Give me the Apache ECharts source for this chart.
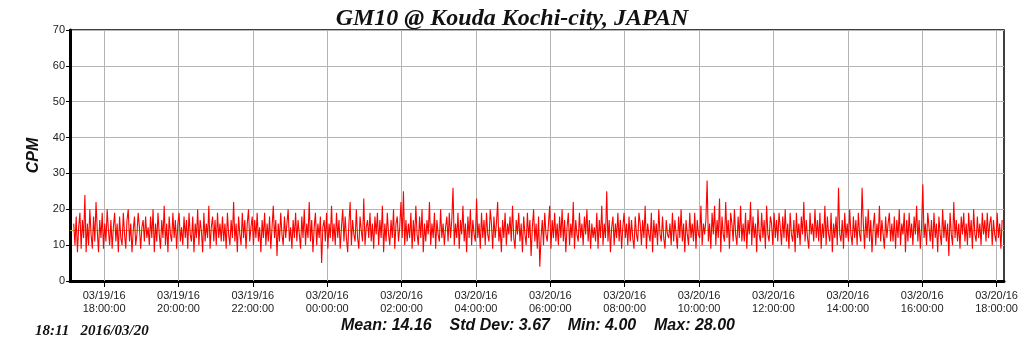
<!DOCTYPE html>
<html>
<head>
<meta charset="utf-8">
<script src="https://cdn.jsdelivr.net/npm/echarts@6/dist/echarts.min.js"></script>
<style>html,body{margin:0;padding:0;background:#fff}#c{width:1024px;height:351px}</style>
</head>
<body>
<div id="c"></div>
<script>
// Time in minutes since 03/19/16 00:00; one value every 2 minutes starting 17:11
var startMinute = 1031;
var stepMinutes = 2;
var row00 = [16,10,18,8,15,19,9,17,12,24,8,16,10,20,13,9,18,11,22,14,8,17,12,19,9,16,11,20,14,10];
var row01 = [17,9,15,19,11,16,8,18,12,10,19,13,9,17,20,11,16,8,14,18,10,13,19,15,9,15,17,11,18,12];
var row02 = [15,10,18,12,20,8,16,11,19,13,9,17,12,21,10,16,8,18,13,11,19,12,17,9,16,19,11,15,10,18];
var row03 = [12,17,9,19,13,11,18,8,16,12,20,10,17,14,8,19,11,16,12,21,9,15,18,11,17,10,19,12,16,11];
var row04 = [18,11,16,9,19,13,10,17,12,22,11,16,8,18,13,10,19,12,17,9,16,20,11,15,18,10,17,12,19,11];
var row05 = [15,8,17,12,19,10,16,11,18,9,15,21,12,17,7,16,11,19,13,10,18,12,16,20,11,15,9,17,12,19];
var row06 = [11,17,13,9,18,12,20,10,16,12,22,11,17,8,15,19,10,16,12,18,5,15,17,11,19,9,16,12,21,11];
var row07 = [16,10,19,12,17,9,15,20,11,18,12,8,16,22,10,17,13,11,20,12,9,18,14,11,23,10,15,17,12,19];
var row08 = [11,16,9,18,13,19,10,17,12,21,8,16,11,19,13,10,17,12,20,9,16,18,11,15,22,12,25,10,17,11];
var row09 = [16,12,19,9,17,11,21,13,10,18,12,20,8,16,11,17,13,22,10,16,12,19,9,17,13,11,20,12,16,10];
var row10 = [15,18,11,19,12,17,26,10,16,12,19,9,17,13,21,11,16,8,18,12,20,10,17,13,11,23,12,16,9,19];
var row11 = [12,17,10,19,13,11,20,16,9,18,12,16,22,11,15,8,17,12,19,10,16,13,18,11,21,12,9,17,13,19];
var row12 = [11,16,8,18,13,10,19,12,17,7,15,20,11,16,9,18,4,12,17,10,19,13,11,16,21,9,17,12,19,11];
var row13 = [16,10,18,12,20,11,17,8,15,19,10,16,12,22,9,17,13,11,19,12,16,10,18,13,20,11,17,9,16,12];
var row14 = [15,11,19,9,17,12,21,10,16,12,25,11,17,8,15,18,10,16,12,19,11,17,9,15,19,12,16,10,18,11];
var row15 = [17,12,9,18,13,11,19,16,10,17,12,21,9,16,13,11,19,8,17,12,16,10,20,13,11,18,12,9,17,13];
var row16 = [12,16,10,19,11,17,13,9,18,12,20,11,16,8,17,13,10,19,12,16,11,19,9,17,13,12,21,10,16,13];
var row17 = [17,28,11,16,9,19,13,21,10,17,12,23,8,18,13,11,22,12,17,9,19,16,11,20,13,10,18,12,21,11];
var row18 = [16,11,19,9,17,13,22,10,18,12,16,8,20,13,11,19,12,17,9,21,13,11,18,16,10,19,12,17,11,19];
var row19 = [15,10,18,12,20,11,16,9,19,13,11,17,8,19,12,16,10,18,13,22,11,17,12,9,19,13,16,11,20,12];
var row20 = [17,11,19,9,16,12,21,10,18,13,11,19,8,16,12,18,10,26,13,11,17,9,19,12,16,11,20,13,10,18];
var row21 = [12,17,10,19,13,11,26,16,9,18,12,20,11,17,8,15,19,10,16,12,21,11,17,13,9,18,12,16,19,11];
var row22 = [16,11,18,9,17,12,20,10,16,13,19,8,17,11,19,12,16,10,18,13,21,11,17,9,15,27,12,16,10,19];
var row23 = [15,11,17,9,19,12,16,8,18,13,10,20,12,17,11,16,7,19,13,10,22,12,17,11,16,9,18,13,19,11];
var row24 = [16,10,19,12,17,9,20,13,11,18,12,16,10,19,13,17,11,19,12,16,18,10,17,13,11,19,12,16,9,17];

var tickMinutes = [1080,1200,1320,1440,1560,1680,1800,1920,2040,2160,2280,2400,2520];
var tickLabels = ['03/19/16\n18:00:00','03/19/16\n20:00:00','03/19/16\n22:00:00','03/20/16\n00:00:00','03/20/16\n02:00:00','03/20/16\n04:00:00','03/20/16\n06:00:00','03/20/16\n08:00:00','03/20/16\n10:00:00','03/20/16\n12:00:00','03/20/16\n14:00:00','03/20/16\n16:00:00','03/20/16\n18:00:00'];
var meanValue = 14.16;
var titleText = 'GM10 @ Kouda Kochi-city, JAPAN';
var statsText = 'Mean: 14.16    Std Dev: 3.67    Min: 4.00    Max: 28.00';
var stampText = '18:11   2016/03/20';

var rows = [row00,row01,row02,row03,row04,row05,row06,row07,row08,row09,row10,row11,row12,row13,row14,row15,row16,row17,row18,row19,row20,row21,row22,row23,row24];
var values = [].concat.apply([], rows);
var data = values.map(function (v, i) { return [startMinute + i * stepMinutes, v]; });

var chart = echarts.init(document.getElementById('c'), null, {renderer: 'canvas'});
var vLines = tickMinutes.map(function (m) { return {xAxis: m}; });
chart.setOption({
  animation: false,
  backgroundColor: '#ffffff',
  title: {
    text: titleText, left: 'center', top: 2,
    textStyle: {fontFamily: 'Liberation Serif', fontStyle: 'italic', fontWeight: 'bold', fontSize: 24, color: '#111'}
  },
  grid: {left: 70, right: 20, top: 30, bottom: 70, show: true, borderColor: '#000', borderWidth: 1.5, backgroundColor: 'transparent'},
  xAxis: {
    type: 'value', min: 1025, max: 2532,
    axisLine: {show: true, onZero: false, lineStyle: {color: '#000', width: 3}},
    axisTick: {show: true, customValues: tickMinutes, length: 6, lineStyle: {color: '#000', width: 1}},
    axisLabel: {
      customValues: tickMinutes, color: '#222', fontFamily: 'Liberation Sans', fontSize: 11, lineHeight: 13, margin: 8,
      formatter: function (v) { var k = tickMinutes.indexOf(v); return k >= 0 ? tickLabels[k] : ''; }
    },
    splitLine: {show: false}
  },
  yAxis: {
    type: 'value', min: 0, max: 70, interval: 10,
    name: 'CPM', nameLocation: 'middle', nameGap: 27, nameRotate: 90,
    nameTextStyle: {fontFamily: 'Liberation Sans', fontStyle: 'italic', fontWeight: 'bold', fontSize: 16, color: '#111'},
    axisLine: {show: true, lineStyle: {color: '#000', width: 3}},
    axisTick: {show: true, length: 4, lineStyle: {color: '#000'}},
    axisLabel: {color: '#222', fontFamily: 'Liberation Sans', fontSize: 11, margin: 5},
    splitLine: {show: true, lineStyle: {color: '#b4b4b4', width: 1}}
  },
  series: [{
    type: 'line', data: data, showSymbol: false, symbol: 'none',
    lineStyle: {color: '#ff0000', width: 1.1}, z: 3,
    markLine: {
      silent: true, symbol: 'none', label: {show: false}, animation: false,
      data: vLines.map(function (d) { return Object.assign({lineStyle: {color: '#b4b4b4', width: 1, type: 'solid'}}, d); })
        .concat([{yAxis: meanValue, lineStyle: {color: '#a8b040', width: 1, type: 'solid'}}]),
      z: 2
    }
  }],
  graphic: [
    {type: 'text', x: 538, y: 318, style: {text: statsText, fontFamily: 'Liberation Sans', fontStyle: 'italic', fontWeight: 'bold', fontSize: 16, fill: '#111', align: 'center', textAlign: 'center'}},
    {type: 'text', left: 35, top: 324, style: {text: stampText, fontFamily: 'Liberation Serif', fontStyle: 'italic', fontWeight: 'bold', fontSize: 15, fill: '#111'}}
  ]
});
</script>
</body>
</html>
